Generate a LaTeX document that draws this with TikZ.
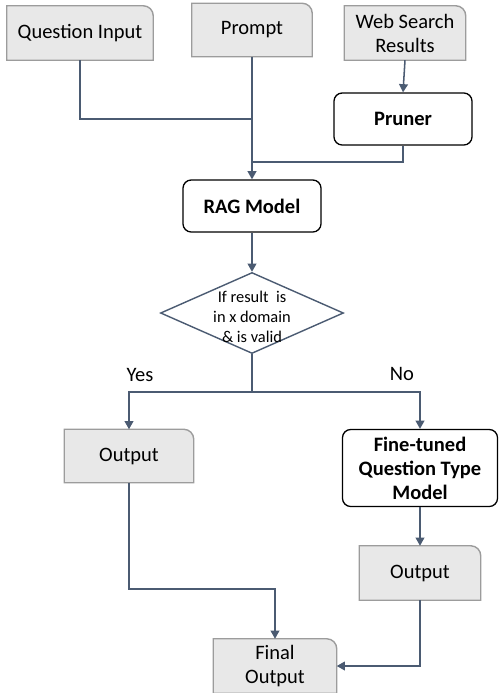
\documentclass[tikz,border=0pt]{standalone}
\usepackage{fontspec}
\setmainfont{Carlito}
\usetikzlibrary{shapes.geometric,arrows.meta,backgrounds}

\definecolor{flowline}{HTML}{4B5B72}
\definecolor{tabfill}{HTML}{E8E8E8}
\definecolor{tabedge}{HTML}{9C9C9C}

\tikzset{
  tabbox/.style={align=center, inner sep=0pt},
  modelbox/.style={draw=black, fill=white, line width=1.1pt, rounded corners=7pt,
    align=center, inner sep=0pt, font=\fontsize{17.5}{20.5}\selectfont\bfseries},
  flow/.style={draw=flowline, line width=1.3pt},
  flowarrow/.style={flow, -{Triangle[width=7.5pt,length=7pt]}},
}

% grey input/output box: square corners except the top right one
\newcommand{\tabshape}[1]{%
  \filldraw[fill=tabfill, draw=tabedge, line width=1.2pt]
    (#1.south west) -- (#1.north west) -- ([xshift=-8.5pt]#1.north east)
    arc[start angle=90, end angle=0, radius=8.5pt] -- (#1.south east) -- cycle;}

\begin{document}
\begin{tikzpicture}[x=0.03cm, y=-0.03cm, font=\fontsize{17.5}{20.5}\selectfont]
    \useasboundingbox (0,0) rectangle (498,693);

    \node[tabbox, minimum width=4.38cm, minimum height=1.62cm] (question) at (80,33) {Question Input};
    \node[tabbox, minimum width=3.6cm, minimum height=1.59cm] (prompt) at (252,30) {Prompt};
    \node[tabbox, minimum width=3.63cm, minimum height=1.62cm] (web) at (405,33) {Web Search\\Results};

    \node[modelbox, minimum width=4.14cm, minimum height=1.56cm] (pruner) at (403,119) {Pruner};
    \node[modelbox, minimum width=4.14cm, minimum height=1.56cm] (rag) at (252,206) {RAG Model};

    \node[diamond, draw=flowline, line width=1.2pt, fill=white, inner sep=0pt, aspect=2.26,
          minimum width=5.49cm, minimum height=2.43cm,
          label={[align=center, yshift=-0.12cm, font=\fontsize{14}{17}\selectfont]center:If result\ \ is\\in x domain\\\& is valid}] (check) at (252,313) {};

    \node[tabbox, minimum width=3.87cm, minimum height=1.59cm] (outleft) at (129,456) {Output};
    \node[modelbox, minimum width=4.65cm, minimum height=2.31cm] (finetuned) at (420,468) {Fine-tuned\\Question Type\\Model};
    \node[tabbox, minimum width=3.63cm, minimum height=1.62cm] (outright) at (420,573) {Output};
    \node[tabbox, minimum width=3.69cm, minimum height=1.62cm] (final) at (275,666) {Final\\Output};

    \begin{scope}[on background layer]
        \tabshape{question}
        \tabshape{prompt}
        \tabshape{web}
        \tabshape{outleft}
        \tabshape{outright}
        \tabshape{final}
    \end{scope}

    \coordinate (merge) at (252,119);
    \coordinate (split) at (252,392);

    \draw[flow] (question.south) |- (merge);
    \draw[flow] (prompt.south) -- (merge);
    \draw[flow] (pruner.south) |- (252,162);
    \draw[flowarrow] (merge) -- (rag.north);
    \draw[flowarrow] (web.south) -- (pruner.north);
    \draw[flowarrow] (rag.south) -- (check.north);

    \draw[flow] (check.south) -- (split);
    \draw[flowarrow] (split) -| (outleft.north);
    \draw[flowarrow] (split) -| (finetuned.north);
    \node at (140,375) {Yes};
    \node at (402,374) {No};

    \draw[flowarrow] (finetuned.south) -- (outright.north);
    \draw[flowarrow] (outleft.south) -- ++(0,106) -| (final.north);
    \draw[flowarrow] (outright.south) |- (final.east);

\end{tikzpicture}
\end{document}
